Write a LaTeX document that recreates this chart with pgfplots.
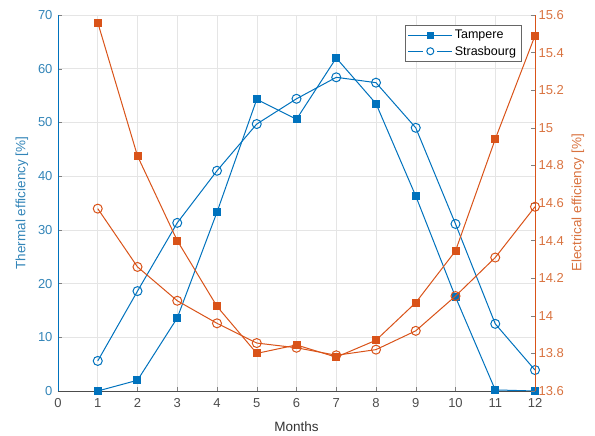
\documentclass[border=0pt]{standalone}
\usepackage{fontspec}
\setmainfont{Liberation Sans}
\usepackage{pgfplots}
\pgfplotsset{compat=1.18}
\definecolor{mblue}{rgb}{0,0.447,0.741}
\definecolor{morange}{rgb}{0.85,0.325,0.098}
\definecolor{tblue}{rgb}{0.20,0.52,0.72}
\definecolor{torange}{rgb}{0.85,0.45,0.25}

\pgfplotsset{
  common/.style={
    width=477pt, height=376pt, scale only axis,
    xmin=0, xmax=12,
    tick label style={font=\fontsize{13}{15}\selectfont},
    label style={font=\fontsize{13.5}{16}\selectfont},
    /pgf/number format/assume math mode=true,
    major tick length=4pt,
    tick align=inside,
  }
}

\begin{document}
\begin{tikzpicture}
\begin{axis}[
    common,
    ymin=0, ymax=70,
    xtick={0,1,...,12},
    ytick={0,10,...,70},
    axis x line*=bottom,
    axis y line*=left,
    x axis line style={black!70,-},
    y axis line style={mblue,-},
    xticklabel style={black!70, yshift=-4pt},
    yticklabel style={tblue, xshift=-2pt},
    xlabel={Months},
    ylabel={Thermal efficiency [\%]},
    xlabel style={black!80, at={([yshift=-36pt]axis description cs:0.5,0)}, anchor=center},
    ylabel style={tblue, at={([xshift=-36pt]axis description cs:0,0.5)}, anchor=center},
    grid=major,
    grid style={black!10, line width=0.5pt},
    legend style={at={(0.971,0.973)}, anchor=north east,
        font=\fontsize{12.5}{15}\selectfont, draw=black!60, fill=white,
        row sep=1.5pt, inner xsep=3pt, inner ysep=3pt},
    legend cell align=left,
]
\addplot[mblue, line width=1pt, mark=square*, mark size=3.5pt, mark options={solid},
  legend image code/.code={
    \draw[draw=mblue, line width=1pt] (0pt,0pt) -- (44pt,0pt);
    \fill[mblue] (22pt,0pt) +(-2.8pt,-2.8pt) rectangle +(2.8pt,2.8pt);
  }] coordinates {
  (1,0) (2,2.0) (3,13.6) (4,33.3) (5,54.3) (6,50.6) (7,62.0) (8,53.5) (9,36.3) (10,17.5) (11,0.2) (12,0)
};
\addlegendentry{Tampere}
\addplot[mblue, line width=1pt, mark=o, mark size=4.5pt, mark options={solid, line width=1pt},
  legend image code/.code={
    \draw[draw=mblue, line width=1pt] (0pt,0pt) -- (15pt,0pt);
    \draw[draw=mblue, line width=1pt] (29pt,0pt) -- (44pt,0pt);
    \draw[draw=mblue, line width=1pt] (22pt,0pt) circle (3.5pt);
  }] coordinates {
  (1,5.6) (2,18.6) (3,31.3) (4,41.0) (5,49.7) (6,54.4) (7,58.4) (8,57.4) (9,49.0) (10,31.1) (11,12.5) (12,3.9)
};
\addlegendentry{Strasbourg}
\end{axis}

\begin{axis}[
    common,
    ymin=13.6, ymax=15.6,
    ytick={13.6,13.8,14,14.2,14.4,14.6,14.8,15,15.2,15.4,15.6},
    axis x line=none,
    axis y line*=right,
    y axis line style={morange,-},
    yticklabel style={torange},
    ylabel={Electrical efficiency [\%]},
    ylabel style={torange, at={([xshift=43pt]axis description cs:1,0.5)}, anchor=center},
    /pgf/number format/fixed,
]
\addplot[morange, line width=1pt, mark=square*, mark size=3.5pt, mark options={solid}] coordinates {
  (1,15.56) (2,14.85) (3,14.40) (4,14.05) (5,13.80) (6,13.845) (7,13.78) (8,13.87) (9,14.07) (10,14.345) (11,14.94) (12,15.49)
};
\addplot[morange, line width=1pt, mark=o, mark size=4.5pt, mark options={solid, line width=1pt}] coordinates {
  (1,14.57) (2,14.26) (3,14.08) (4,13.96) (5,13.855) (6,13.83) (7,13.79) (8,13.82) (9,13.92) (10,14.105) (11,14.31) (12,14.58)
};
\end{axis}
\path (-58pt,-45pt) rectangle (537pt,391pt);
\end{tikzpicture}
\end{document}
